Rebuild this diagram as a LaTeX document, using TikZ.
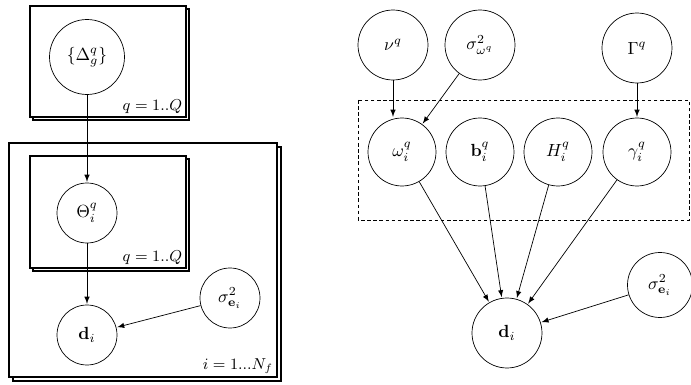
\documentclass[tikz,border=0pt]{standalone}
\usepackage{amsmath,amssymb}
\usetikzlibrary{automata,arrows,positioning,calc}

\begin{document}
\begin{tikzpicture}[>=latex, auto, x=0.02cm, y=-0.02cm]
\tikzstyle{every state}=[fill=white,draw=black,thin,text=black,inner sep=1pt]
\tikzstyle{plate}=[draw=black,fill=white,line width=0.6pt]
\tikzstyle{platelabel}=[font=\small,anchor=south east,inner sep=2pt]
\tikzstyle{link}=[->,thin,shorten >=0.5pt]
\useasboundingbox (0,0) rectangle (691,385);

% left model: plates first
\draw[plate] (33,9) rectangle (189,120);
\draw[plate] (30,6) rectangle (186,117);
\node[platelabel] (qtop) at (186,117) {$q=1..Q$};

\draw[plate] (13,147) rectangle (281,381);
\draw[plate] (9,143) rectangle (277,377);
\node[platelabel] (iplate) at (277,377) {$i=1...N_f$};

\draw[plate] (33,159) rectangle (189,271);
\draw[plate] (30,156) rectangle (186,268);
\node[platelabel] (qin) at (186,268) {$q=1..Q$};

\node[state, minimum size=1.5cm] (Delta) at (87,57)  {$\{\Delta^q_g\}$};
\node[state, minimum size=1.2cm] (Theta) at (87,213) {$\Theta^q_i$};
\node[state, minimum size=1.2cm] (dl)    at (87,335) {$\mathbf{d}_i$};
\node[state, minimum size=1.2cm] (sl)    at (230,298) {$\sigma^2_{\mathbf{e}_i}$};

\draw[link] (Delta) -- (Theta);
\draw[link] (Theta) -- (dl);
\draw[link] (sl) -- (dl);

% right model
\draw[thin, dash pattern=on 2pt off 1.5pt] (358,100) rectangle (689,220);

\node[state, minimum size=1.4cm] (nu)     at (393,45)  {$\nu^q$};
\node[state, minimum size=1.4cm] (sw)     at (480,45)  {$\sigma^2_{\omega^q}$};
\node[state, minimum size=1.4cm] (Gamma)  at (637,48)  {$\Gamma^q$};
\node[state, minimum size=1.36cm] (omega) at (402,152) {$\omega^q_i$};
\node[state, minimum size=1.36cm] (b)     at (480,152) {$\mathbf{b}^q_i$};
\node[state, minimum size=1.36cm] (H)     at (558,152) {$H^q_i$};
\node[state, minimum size=1.36cm] (gamma) at (637,152) {$\gamma^q_i$};
\node[state, minimum size=1.4cm] (dr)     at (507,333) {$\mathbf{d}_i$};
\node[state, minimum size=1.3cm] (sr)     at (660,285) {$\sigma^2_{\mathbf{e}_i}$};

\draw[link] (nu.south) -- (nu.south |- omega.north);
\draw[link] (sw) -- (omega);
\draw[link] (Gamma) -- (gamma);
\draw[link] (omega) -- (dr);
\draw[link] (b) -- (dr);
\draw[link] (H) -- (dr);
\draw[link] (gamma) -- (dr);
\draw[link] (sr) -- (dr);
\end{tikzpicture}
\end{document}
